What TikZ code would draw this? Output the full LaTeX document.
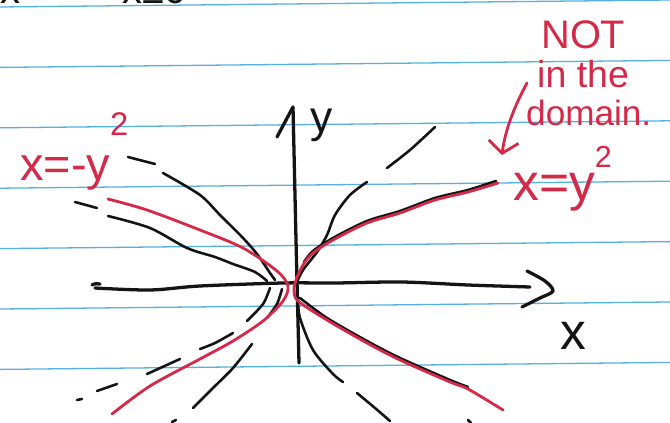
\documentclass[tikz,border=0pt]{standalone}
\usepackage{fontspec}
\setmainfont{Liberation Sans}
\usetikzlibrary{arrows.meta}
\definecolor{ruleblue}{RGB}{86,176,222}
\definecolor{inkred}{RGB}{210,42,72}
\definecolor{inkblack}{RGB}{20,20,20}
\tikzset{
  rule/.style={draw=ruleblue, line width=1.1pt},
  ink/.style={draw=inkblack, line width=2.2pt, line cap=round, line join=round},
  axisink/.style={draw=inkblack, line width=2.8pt, line cap=round, line join=round},
  redink/.style={draw=inkred, line width=2.4pt, line cap=round, line join=round},
  redtext/.style={text=inkred, inner sep=0pt},
  blacktext/.style={text=inkblack, inner sep=0pt}
}
\begin{document}
\begin{tikzpicture}[x=0.03cm,y=-0.03cm]
\useasboundingbox (0,0) rectangle (670,423);
\clip (0,0) rectangle (670,423);
\fill[white] (0,0) rectangle (670,423);
% ruled lines
\foreach \i in {0,...,6}{
  \draw[rule] (0,{7+60.4*\i}) -- (670,{7+60.4*\i-7});
}
% cut-off text of the line above
\node[blacktext, anchor=base west, font=\fontsize{34}{34}\selectfont] (topa) at (0,4) {x};
\node[blacktext, anchor=base west, font=\fontsize{34}{34}\selectfont] (topb) at (122,4) {x≥0};
% axes
\draw[axisink] (92,285) .. controls (95,283) and (98,284) .. (100,284);
\draw[axisink] plot[smooth] coordinates {(95,288) (150,290) (200,286) (283,283) (335,283) (402,282) (468,285) (530,287)};
\draw[axisink] plot[smooth] coordinates {(527,271) (545,281) (553,291) (540,298) (522,307)};
\draw[axisink] (299,363) -- (296,240) -- (293,107);
\draw[axisink] (277,137) -- (293,107);
\node[blacktext, anchor=base, font=\fontsize{38}{38}\selectfont] (ylab) at (322,132) {y};
\node[blacktext, anchor=base, font=\fontsize{44}{44}\selectfont] (xlab) at (573,349) {x};
% black wavy lines
\draw[ink] (128,157) -- (155,164);
\draw[ink] plot[smooth] coordinates {(163,173) (200,195) (220,215) (243,238) (257,254) (270,273) (275,280)};
\draw[ink] (75,202) -- (97,208);
\draw[ink] plot[smooth] coordinates {(108,216) (150,228) (187,248) (215,257) (233,264) (255,272) (267,281)};
\draw[ink] plot[smooth] coordinates {(270,288) (263,304) (247,321)};
\draw[ink] plot[smooth] coordinates {(233,333) (215,343) (200,349)};
\draw[ink] (180,359) -- (147,374);
\draw[ink] (117,384) -- (97,391);
\draw[ink] (82,399) -- (77,400);
\draw[ink] plot[smooth] coordinates {(282,289) (277,304) (267,318)};
\draw[ink] plot[smooth] coordinates {(252,344) (233,368) (213,388) (193,408)};
\draw[ink] (172,422) -- (176,420);
\draw[ink] plot[smooth] coordinates {(297,282) (303,270) (317,252) (327,235) (335,215) (350,195) (367,182)};
\draw[ink] plot[smooth] coordinates {(387,168) (410,150) (435,127)};
\draw[ink] plot[smooth] coordinates {(298,300) (300,318) (313,350) (333,374) (343,382)};
\draw[ink] plot[smooth] coordinates {(357,393) (375,408) (390,421)};
\draw[ink] (468,420) -- (471,423);
% black traced along the right red branches
\draw[ink] plot[smooth, tension=0.5] coordinates {(304,262) (313,251) (333,238) (367,221) (400,211) (435,198) (468,190) (496,181)};
\draw[ink] plot[smooth, tension=0.5] coordinates {(300,298) (327,318) (367,341) (400,358) (450,380) (468,387)};
% red parabolas
\draw[redink] plot[smooth, tension=0.5] coordinates {(108,199) (147,210) (200,230) (243,248) (277,271) (288,286) (283,301) (263,321) (233,341) (200,359) (150,386) (112,414)};
\draw[redink] plot[smooth, tension=0.5] coordinates {(498,183) (468,192) (435,200) (400,213) (367,223) (333,240) (313,253) (303,265) (296,280) (294,290) (298,301) (327,320) (367,343) (400,360) (450,382) (468,389) (503,410)};
% red labels
\node[redtext, anchor=base west, font=\fontsize{40}{40}\selectfont] (leftlab) at (20,180) {x=-y\raisebox{0.95em}{\fontsize{28}{28}\selectfont 2}};
\node[redtext, anchor=base west, font=\fontsize{44}{44}\selectfont] (rightlab) at (513,200) {x=y\raisebox{0.64em}{\fontsize{26}{26}\selectfont 2}};
\node[redtext, anchor=base west, font=\fontsize{34}{34}\selectfont] (notlab) at (541,49) {NOT};
\node[redtext, anchor=base west, font=\fontsize{32}{32}\selectfont] (inlab) at (537,88) {in the};
\node[redtext, anchor=base west, font=\fontsize{30}{30}\selectfont] (domlab) at (526,125) {domain.};
\coordinate (arrstart) at (527,83);
\coordinate (arrend) at (502,155);
\draw[redink, -{Straight Barb[length=3.5mm,width=9mm]}] (arrstart) .. controls (515,105) and (505,130) .. (arrend);
\end{tikzpicture}
\end{document}
